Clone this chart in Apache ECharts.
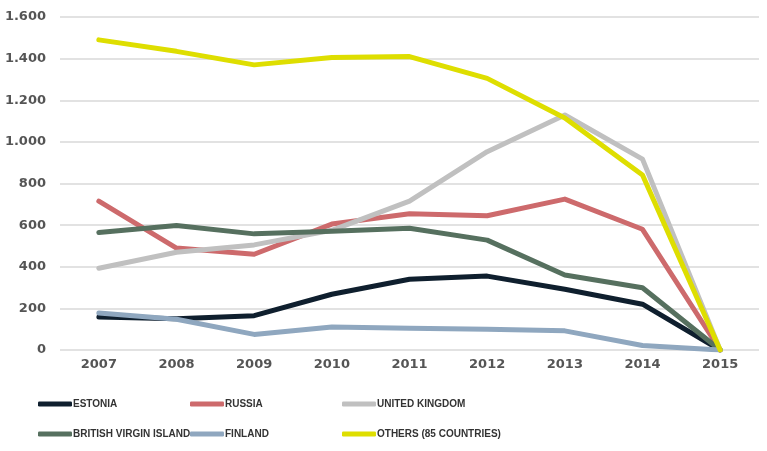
<!DOCTYPE html>
<html>
<head>
<meta charset="utf-8">
<script src="https://cdn.jsdelivr.net/npm/echarts@6/dist/echarts.min.js"></script>
<style>
html, body { margin: 0; padding: 0; background: #fff; }
#main { width: 767px; height: 451px; }
</style>
</head>
<body>
<div id="main"></div>
<script>
var years = ['2007', '2008', '2009', '2010', '2011', '2012', '2013', '2014', '2015'];
var estonia = [158, 150, 165, 268, 340, 355, 292, 220, 0];
var russia = [715, 490, 460, 605, 655, 645, 725, 580, 0];
var unitedKingdom = [393, 470, 505, 575, 715, 953, 1129, 917, 0];
var britishVirgin = [565, 598, 558, 570, 585, 528, 360, 299, 0];
var finland = [178, 148, 75, 110, 105, 100, 92, 22, 0];
var others = [1490, 1435, 1370, 1405, 1410, 1305, 1115, 841, 0];
var yTicks = [0, 200, 400, 600, 800, 1000, 1200, 1400, 1600];

var myChart = echarts.init(document.getElementById('main'));

function fmt(v) {
    // dot as thousands separator
    return String(v).replace(/\B(?=(\d{3})+(?!\d))/g, '.');
}

function line(name, data, color) {
    return {
        name: name,
        type: 'line',
        data: data,
        symbol: 'none',
        lineStyle: { width: 5, color: color, cap: 'round', join: 'round' },
        itemStyle: { color: color }
    };
}

var legendText = {
    color: '#333',
    fontSize: 10,
    fontWeight: 'bold',
    fontFamily: 'Liberation Sans',
    padding: [0, 0, 0, -4]
};
var legendBase = {
    orient: 'vertical',
    top: 399,
    itemGap: 20,
    itemWidth: 34,
    itemHeight: 5,
    icon: 'roundRect',
    textStyle: legendText,
    padding: 0
};

var option = {
    animation: false,
    grid: { left: 60, right: 8, top: 17, bottom: 101 },
    legend: [
        Object.assign({}, legendBase, { left: 38, data: ['ESTONIA', 'BRITISH VIRGIN ISLAND'] }),
        Object.assign({}, legendBase, { left: 190, data: ['RUSSIA', 'FINLAND'] }),
        Object.assign({}, legendBase, { left: 342, data: ['UNITED KINGDOM', 'OTHERS (85 COUNTRIES)'] })
    ],
    xAxis: {
        type: 'category',
        data: years,
        boundaryGap: true,
        axisLine: { show: false },
        axisTick: { show: false },
        axisLabel: {
            color: '#555',
            fontSize: 13,
            fontWeight: 'bold',
            fontFamily: 'DejaVu Sans',
            margin: 8
        }
    },
    yAxis: {
        type: 'value',
        min: 0,
        max: 1600,
        interval: 200,
        axisLine: { show: false },
        axisTick: { show: false },
        splitLine: { lineStyle: { color: '#d9d9d9', width: 1.5 } },
        axisLabel: {
            color: '#555',
            fontSize: 13,
            fontWeight: 'bold',
            fontFamily: 'DejaVu Sans',
            margin: 14,
            formatter: function (v) { return yTicks.indexOf(v) >= 0 ? fmt(v) : ''; }
        }
    },
    series: [
        line('ESTONIA', estonia, '#0f1f2e'),
        line('RUSSIA', russia, '#cd6a6c'),
        line('UNITED KINGDOM', unitedKingdom, '#c0c0c0'),
        line('BRITISH VIRGIN ISLAND', britishVirgin, '#56705f'),
        line('FINLAND', finland, '#8fa7bf'),
        line('OTHERS (85 COUNTRIES)', others, '#dede00')
    ]
};
myChart.setOption(option);
</script>
</body>
</html>
